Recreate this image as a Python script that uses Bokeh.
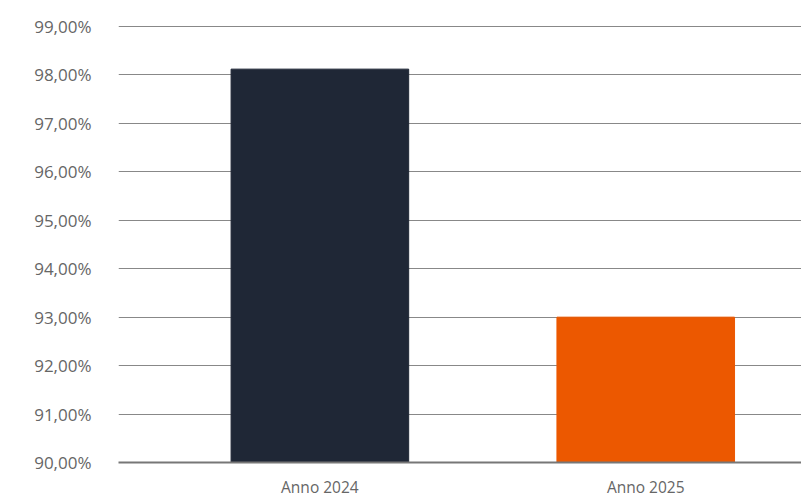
from bokeh.plotting import figure
from bokeh.models import Range1d, FixedTicker
from bokeh.embed import file_html
from bokeh.resources import INLINE

categories = ["Anno 2024", "Anno 2025"]
values = [98.12, 93.00]
colors = ["#1f2736", "#ec5800"]
y_ticks = [90, 91, 92, 93, 94, 95, 96, 97, 98, 99]
y_tick_labels = ["90,00%", "91,00%", "92,00%", "93,00%", "94,00%",
                 "95,00%", "96,00%", "97,00%", "98,00%", "99,00%"]

x_pos = [0.5 + i for i in range(len(categories))]

p = figure(width=801, height=500, output_backend="svg", toolbar_location=None,
           x_range=Range1d(-0.118, 1.978), y_range=Range1d(90, 99.124),
           min_border_left=118, min_border_right=0, min_border_top=20,
           min_border_bottom=38)
p.outline_line_color = None
p.background_fill_color = "white"

p.vbar(x=x_pos, top=values, bottom=90, width=0.545, color=colors)

p.xaxis.ticker = FixedTicker(ticks=x_pos)
p.xaxis.major_label_overrides = {x: c for x, c in zip(x_pos, categories)}
p.xaxis.major_tick_line_color = None
p.xaxis.minor_tick_line_color = None
p.xaxis.axis_line_color = "#777777"
p.xaxis.axis_line_width = 2
p.xaxis.major_label_text_font = "Open Sans"
p.xaxis.major_label_text_font_size = "15.5px"
p.xaxis.major_label_text_color = "#666666"
p.xaxis.major_label_standoff = 7

p.yaxis.ticker = FixedTicker(ticks=y_ticks)
p.yaxis.major_label_overrides = {t: l for t, l in zip(y_ticks, y_tick_labels)}
p.yaxis.axis_line_color = None
p.yaxis.major_tick_line_color = None
p.yaxis.minor_tick_line_color = None
p.yaxis.major_label_text_font = "Open Sans"
p.yaxis.major_label_text_font_size = "17px"
p.yaxis.major_label_text_color = "#666666"
p.yaxis.major_label_standoff = 21

p.xgrid.grid_line_color = None
p.ygrid.grid_line_color = "#888888"
p.ygrid.grid_line_width = 1

open("out.html", "w").write(file_html(p, INLINE))
